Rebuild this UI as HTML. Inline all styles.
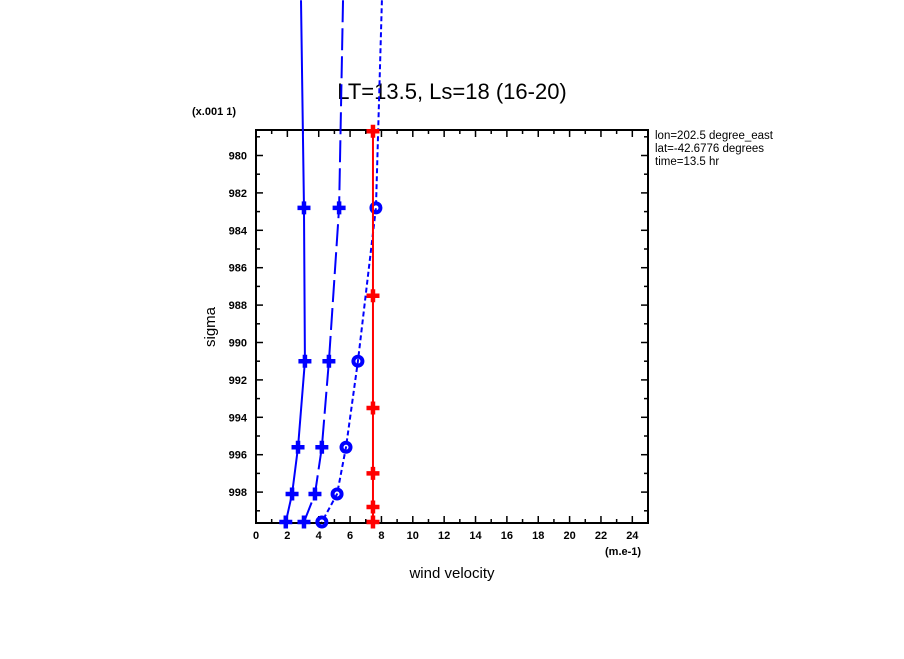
<!DOCTYPE html>
<html><head><meta charset="utf-8"><style>
body{margin:0;background:#fff;}
svg text{font-family:"Liberation Sans",sans-serif;}
</style></head><body>
<svg id="chart" width="904" height="654" xmlns="http://www.w3.org/2000/svg">
<defs><clipPath id="annClip"><rect x="650" y="120" width="129" height="60"/></clipPath></defs>
<text x="452" y="99" font-size="22" text-anchor="middle">LT=13.5, Ls=18 (16-20)</text>
<text x="192" y="115" font-size="11" font-weight="bold">(x.001 1)</text>
<text x="605" y="555" font-size="11" font-weight="bold">(m.e-1)</text>
<text x="452" y="578" font-size="15" text-anchor="middle">wind velocity</text>
<text x="0" y="0" font-size="15" text-anchor="middle" transform="translate(215,327) rotate(-90)">sigma</text>
<g clip-path="url(#annClip)">
<text x="655" y="139" font-size="11.5">lon=202.5 degree_east</text>
<text x="655" y="152" font-size="11.5">lat=-42.6776 degrees</text>
<text x="655" y="165" font-size="11.5">time=13.5 hr</text>
</g>
<g id="axes"></g>
<g id="series"></g>
</svg>
<script>
const xTicks=[0,2,4,6,8,10,12,14,16,18,20,22,24];
const yTicks=[980,982,984,986,988,990,992,994,996,998];
const sigmaBlue=[971.7,982.8,991,995.6,998.1,999.6];
const solidVals=[2.87,3.06,3.12,2.68,2.3,1.9];
const dashVals=[5.55,5.3,4.65,4.2,3.76,3.06];
const dotVals=[8.03,7.65,6.5,5.74,5.17,4.2];
const sigmaRed=[978.7,987.5,993.5,997,998.8,999.6];
const redVals=[7.46,7.46,7.46,7.46,7.46,7.46];
const NS='http://www.w3.org/2000/svg';
const L=256,R=648,T=130,B=523;
function xs(v){return L+v*(R-L)/25;}
function ys(s){return 155.5+(s-980)*18.7;}
function mk(tag,attrs,parent){const e=document.createElementNS(NS,tag);for(const k in attrs)e.setAttribute(k,attrs[k]);parent.appendChild(e);return e;}
const ax=document.getElementById('axes');
const frame=mk('rect',{x:L,y:T,width:R-L,height:B-T,fill:'none',stroke:'#000','stroke-width':2},ax);


for(let v=0;v<=25;v++){const x=xs(v);const len=v%2===0?7:4;
 const t=mk('line',{x1:x,y1:B,x2:x,y2:B-len,stroke:'#000','stroke-width':1.5},ax);
 
 
 const t2=mk('line',{x1:x,y1:T,x2:x,y2:T+len,stroke:'#000','stroke-width':1.5},ax);
 
 }
xTicks.forEach(v=>{const t=mk('text',{x:xs(v),y:B+16,'font-size':11,'font-weight':'bold','text-anchor':'middle'},ax);t.textContent=v;
 
 });
for(let s=979;s<=999;s++){const y=ys(s);const len=s%2===0?7:4;
 const t=mk('line',{x1:L,y1:y,x2:L+len,y2:y,stroke:'#000','stroke-width':1.5},ax);
 
 
 const t2=mk('line',{x1:R,y1:y,x2:R-len,y2:y,stroke:'#000','stroke-width':1.5},ax);
 
 }
yTicks.forEach(s=>{const t=mk('text',{x:L-9,y:ys(s)+4,'font-size':11,'font-weight':'bold','text-anchor':'end'},ax);t.textContent=s;
 
 });
const sg=document.getElementById('series');
function drawSeries(name,sig,vals,color,dash,marker,skipFirst){
 const pts=sig.map((s,i)=>xs(vals[i])+','+ys(s)).join(' ');
 const pl=mk('polyline',{points:pts,fill:'none',stroke:color,'stroke-width':2,'stroke-dasharray':dash},sg);
 
 
 sig.forEach((s,i)=>{if(skipFirst&&i===0)return;const x=xs(vals[i]),y=ys(s);let m;
  if(marker==='circle'){m=mk('circle',{cx:x,cy:y,r:4.5,fill:'none',stroke:color,'stroke-width':4},sg);}
  else{m=mk('path',{d:`M${x-6.5},${y}H${x+6.5}M${x},${y-6.5}V${y+6.5}`,stroke:color,'stroke-width':4.5},sg);}
  
  });
}
drawSeries('solid-series',sigmaBlue,solidVals,'#0000ff','','plus',true);
drawSeries('dashed-series',sigmaBlue,dashVals,'#0000ff','22,6','plus',true);
drawSeries('dotted-series',sigmaBlue,dotVals,'#0000ff','5,3','circle',true);
drawSeries('red-series',sigmaRed,redVals,'#ff0000','','plus',false);
</script>
</body></html>
